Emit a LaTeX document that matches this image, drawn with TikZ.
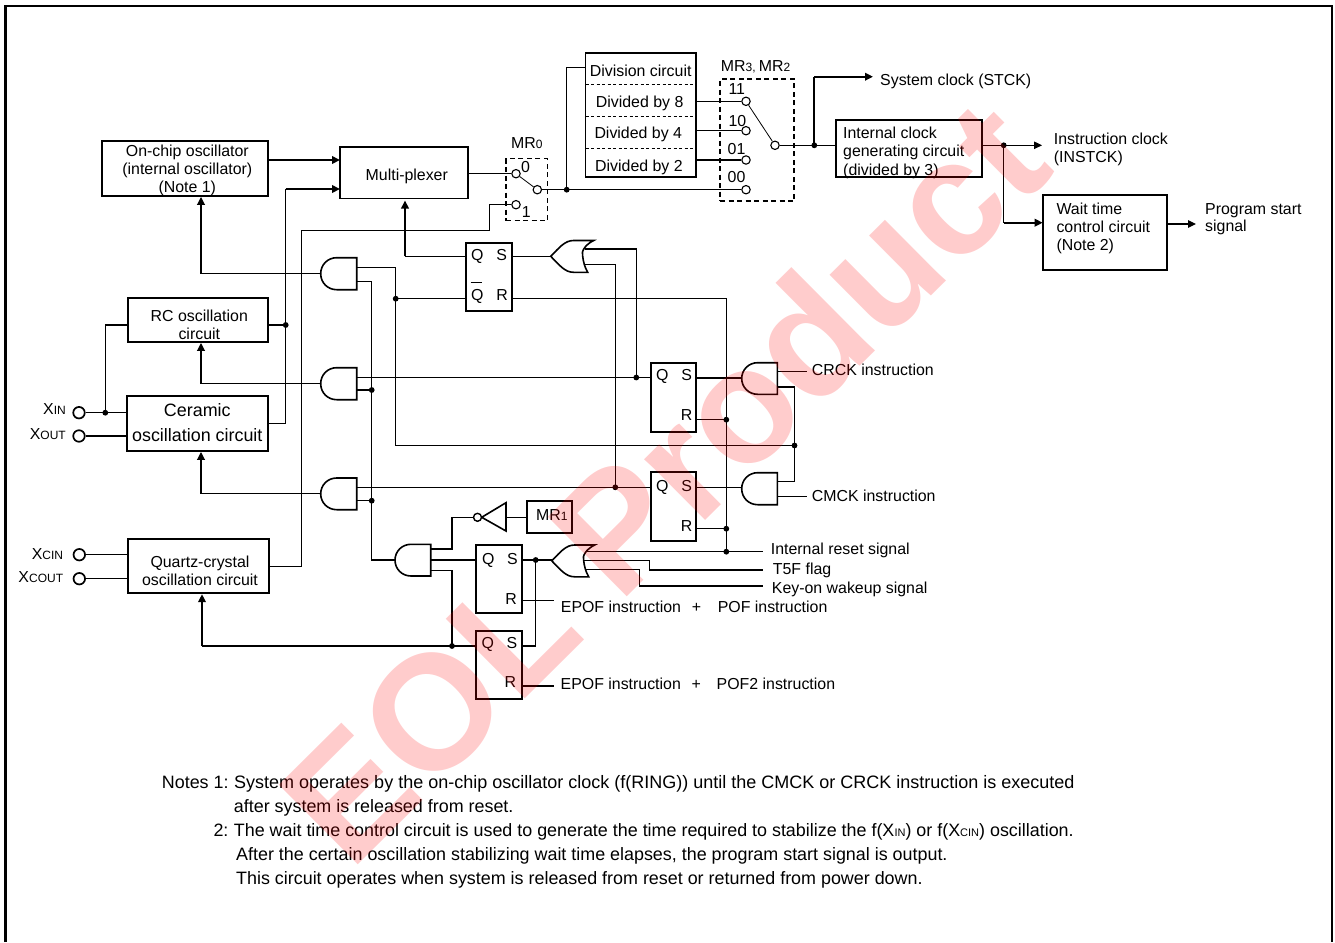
\documentclass[tikz,border=0pt]{standalone}
\usepackage{fontspec}
\setmainfont{Liberation Sans}
\usetikzlibrary{arrows.meta,calc}
\newcommand\sm[1]{{\fontsize{12}{12}\selectfont #1}}
\newcommand\smn[1]{{\fontsize{11}{11}\selectfont #1}}
\tikzset{
  wire/.style={line width=1.1pt,line join=miter},
  fat/.style={line width=2.3pt,line join=miter},
  tipped/.style={-{Triangle[length=8pt,width=7.5pt]}},
  boxst/.style={draw,line width=1.7pt,inner sep=0pt,fill=none},
  dashbox/.style={draw,line width=1.5pt,dash pattern=on 5pt off 3.5pt,inner sep=0pt},
  sep/.style={line width=1pt,dash pattern=on 3pt off 2.5pt},
  lever/.style={line width=.8pt},
  term/.style={circle,draw,fill=white,line width=1.1pt,minimum size=8.4pt,inner sep=0pt},
  pin/.style={circle,draw,fill=white,line width=1.7pt,minimum size=11.5pt,inner sep=0pt},
  dot/.style={circle,fill=black,minimum size=5.8pt,inner sep=0pt},
  lbl/.style={anchor=base west,inner sep=0pt,font=\fontsize{15.9}{15.9}\selectfont},
  clbl/.style={anchor=base,inner sep=0pt,font=\fontsize{15.9}{15.9}\selectfont},
  rlbl/.style={anchor=base east,inner sep=0pt,font=\fontsize{15.9}{15.9}\selectfont},
  note/.style={anchor=base west,inner sep=0pt,font=\fontsize{17.9}{17.9}\selectfont},
  bigl/.style={anchor=base,inner sep=0pt,font=\fontsize{17.9}{17.9}\selectfont},
  gate/.style={line width=1.6pt,line join=miter},
}
% box node: name, x1,y1,x2,y2
\newcommand\bx[6][boxst]{%
  \pgfmathsetmacro\bw{#5-#3}\pgfmathsetmacro\bh{#6-#4}%
  \node[#1,minimum width=\bw pt,minimum height=\bh pt] (#2) at ({(#3+#5)/2},{(#4+#6)/2}) {};}
% AND gate: x1, x2, y1, y2
\newcommand\andg[4]{%
  \pgfmathsetmacro\ym{(#3+#4)/2}\pgfmathsetmacro\xa{#1+16}\pgfmathsetmacro\xb{#1+7}%
  \pgfmathsetmacro\yb{#3+7}\pgfmathsetmacro\yc{#4-7}%
  \draw[gate,fill=white] (#2,#3) -- (\xa,#3) .. controls (\xb,#3) and (#1,\yb) .. (#1,\ym)
    .. controls (#1,\yc) and (\xb,#4) .. (\xa,#4) -- (#2,#4) -- cycle;}
% OR gate: tip x, tip y
\newcommand\org[2]{%
  \draw[gate] (#1,#2) .. controls ($(#1,#2)+(9,-9)$) and ($(#1,#2)+(14,-15.8)$) .. ($(#1,#2)+(23,-15.8)$)
    -- ($(#1,#2)+(43,-15.8)$) .. controls ($(#1,#2)+(35,-12)$) and ($(#1,#2)+(30,-5)$) .. ($(#1,#2)+(32,0)$)
    .. controls ($(#1,#2)+(32.5,5)$) and ($(#1,#2)+(34,11)$) .. ($(#1,#2)+(37,16)$)
    -- ($(#1,#2)+(23,16)$) .. controls ($(#1,#2)+(14,16)$) and ($(#1,#2)+(9,9)$) .. cycle;}
\begin{document}
\begin{tikzpicture}[x=1pt,y=-1pt]
\useasboundingbox (0,0) rectangle (1335,942);
\fill[white] (0,0) rectangle (1335,942);
\draw[line width=2.6pt] (5.7,942) -- (5.7,6) -- (1332,6) -- (1332,942);

% ---------- junction and port coordinates
\coordinate (jrc) at (285.7,325);
\coordinate (jxin) at (105.3,412.7);
\coordinate (jmr) at (566.7,189.7);
\coordinate (jsys) at (814.3,145.3);
\coordinate (jins) at (1003.7,145.3);
\coordinate (jq1) at (395.7,298.7);
\coordinate (js2) at (636.3,377.5);
\coordinate (js3) at (615.3,487.3);
\coordinate (ja2) at (371.7,390);
\coordinate (ja3) at (371.7,500.7);
\coordinate (jr2) at (726.3,419.7);
\coordinate (jr3) at (726.3,528.7);
\coordinate (jrst) at (726.3,551.7);
\coordinate (jn) at (794.5,445.5);
\coordinate (js4) at (535.7,560);
\coordinate (jq5) at (452,646);
\coordinate (a1in) at (320.7,273.7);
\coordinate (a2in) at (320.7,383.5);
\coordinate (a3in) at (320.7,493.5);
\coordinate (a1t) at (356.7,267.7);
\coordinate (a1b) at (356.7,281.7);
\coordinate (a2t) at (356.7,377.5);
\coordinate (a2b) at (356.7,390);
\coordinate (a3t) at (356.7,487.3);
\coordinate (a3b) at (356.7,500.7);
\coordinate (a4in) at (395,560);
\coordinate (a4t) at (430.7,549);
\coordinate (a4m) at (430.7,560);
\coordinate (a4b) at (430.7,570.7);
\coordinate (a5t) at (777.3,371.3);
\coordinate (a5b) at (777.3,387);
\coordinate (a5in) at (741.7,378);
\coordinate (a6t) at (777.3,481.3);
\coordinate (a6b) at (777.3,496.7);
\coordinate (a6in) at (741.7,487.3);
\coordinate (or1) at (550.7,256.3);
\coordinate (or1a) at (585,249);
\coordinate (or1b) at (584,264.3);
\coordinate (or2) at (551.7,560);
\coordinate (or2a) at (586,551.7);
\coordinate (or2b) at (584,560.7);
\coordinate (or2c) at (585.5,569.3);
\coordinate (qout) at (405,256.3);
\coordinate (qarr) at (405,200.5);
\coordinate (rout) at (726.3,298.7);
\coordinate (t1) at (201,273.7);
\coordinate (t2) at (201,383.5);
\coordinate (t3) at (201,493.5);
\coordinate (t4) at (202,646);
\coordinate (bendA) at (489.3,204.7);
\coordinate (bendB) at (489.3,230.5);
\coordinate (bendC) at (301.5,230.5);
\coordinate (bendD) at (301.5,566.7);
\coordinate (muxa) at (340,160);
\coordinate (muxb) at (340,189);
\coordinate (bendE) at (285.7,189);
\coordinate (bendF) at (285.7,423.3);
\coordinate (divin) at (585.5,67.3);
\coordinate (sysend) at (873,76.7);
\coordinate (waitin) at (1042.7,222.7);
\coordinate (progend) at (1196,224);
\coordinate (instend) at (1042,145.3);
\coordinate (stop1) at (806.7,371.3);
\coordinate (stop2) at (806.7,496.7);
\coordinate (stop3) at (763,551.7);
\coordinate (stop4) at (763,570);
\coordinate (stop5) at (763,586);
\coordinate (ep1) at (554,600.7);
\coordinate (ep2) at (554,686);
\coordinate (t5a) at (649.5,560.7);
\coordinate (keya) at (639.5,569.3);

% ---------- boxes
\bx{onchip}{102}{141}{268.3}{196}
\bx{rc}{128}{298}{268.3}{342}
\bx{ceramic}{127.3}{396}{268.3}{451}
\bx{quartz}{127.7}{539}{269.3}{593.3}
\bx{mux}{340}{147.3}{468}{198.6}
\bx{div}{585.5}{53.3}{695.7}{177.3}
\bx{intclk}{835.7}{120}{982}{176.7}
\bx{wait}{1042.7}{195}{1166.7}{270}
\bx{ffa}{466.3}{242.7}{511.7}{310.7}
\bx{ffb}{650.7}{363.3}{696.3}{431.7}
\bx{ffc}{650.7}{472.3}{696.3}{540.7}
\bx{ffd}{476}{544.7}{521.7}{612.7}
\bx{ffe}{476}{631.3}{521.7}{699.3}
\bx{mra}{526.7}{501}{572.3}{533.3}
\bx[dashbox]{swa}{506}{158.7}{547.3}{220.7}
\bx[dashbox]{swb}{720}{79}{794}{201}
\draw[sep] (585.5,84.3) -- (695.7,84.3) (585.5,116.3) -- (695.7,116.3) (585.5,148.3) -- (695.7,148.3);

% ---------- pins and switch terminals
\node[pin] (xin) at (79,412.7) {};
\node[pin] (xout) at (79,436) {};
\node[pin] (xcin) at (79.3,554.7) {};
\node[pin] (xcout) at (79.3,578.7) {};
\node[term] (s0) at (516,173.7) {};
\node[term] (s1) at (516,204.7) {};
\node[term] (sp) at (537.3,189.7) {};
\node[term] (d8) at (746,101.3) {};
\node[term] (d4) at (746,130.7) {};
\node[term] (d2) at (746,160) {};
\node[term] (d0) at (746,189.7) {};
\node[term] (dp) at (775,145.3) {};

% ---------- wires
\draw[wire] (xin) -- (ceramic.west |- xin);
\draw[wire] (xout) -- (ceramic.west |- xout);
\draw[wire] (xcin) -- (quartz.west |- xcin);
\draw[wire] (xcout) -- (quartz.west |- xcout);
\draw[wire] (jxin) |- (rc.west |- jrc);
\draw[wire] (rc.east |- jrc) -- (jrc);
\draw[wire] (ceramic.east |- bendF) -- (bendF) -- (bendE);
\draw[fat,tipped] (bendE) -- (muxb);
\draw[fat,tipped] (onchip.east |- muxa) -- (muxa);
\draw[wire] (quartz.east |- bendD) -- (bendD) -- (bendC) -- (bendB) -- (bendA) -- (s1);
\draw[wire] (mux.east |- s0) -- (s0);
\draw[lever] (s0) -- (sp);
\draw[wire] (sp) -- (jmr) -- (d0);
\draw[wire] (jmr) |- (divin);
\draw[wire] (div.east |- d8) -- (d8);
\draw[wire] (div.east |- d4) -- (d4);
\draw[wire] (div.east |- d2) -- (d2);
\draw[lever] (d8) -- (dp);
\draw[wire] (dp) -- (intclk.west |- dp);
\draw[fat] (jsys) -- (jsys |- sysend);
\draw[fat,tipped] (jsys |- sysend) -- (sysend);
\draw[wire,tipped] (intclk.east |- jins) -- (instend);
\draw[wire] (jins) -- (jins |- waitin);
\draw[fat,tipped] (jins |- waitin) -- (waitin);
\draw[wire,tipped] (wait.east |- progend) -- (progend);

\draw[wire] (a1in) -- (t1);
\draw[fat,tipped] (t1) -- (t1 |- onchip.south);
\draw[wire] (a2in) -- (t2);
\draw[fat,tipped] (t2) -- (t2 |- rc.south);
\draw[wire] (a3in) -- (t3);
\draw[fat,tipped] (t3) -- (t3 |- ceramic.south);
\draw[wire] (jq5) -- (t4);
\draw[fat,tipped] (t4) -- (t4 |- quartz.south);

\draw[wire] (ffa.west |- qout) -- (qout);
\draw[fat,tipped] (qout) -- (qarr);
\draw[wire] (a1t) -| (jq1);
\draw[wire] (jq1) -- (ffa.west |- jq1);
\draw[wire] (jq1) |- (jn);
\draw[wire] (a1b) -| (ja2) -- (ja3) |- (a4in);
\draw[wire] (ffa.east |- or1) -- (or1);
\draw[wire] (ffa.east |- rout) -- (rout) -- (jrst) -- (stop3);
\draw[wire] (or1a) -| (js2);
\draw[wire] (or1b) -| (js3);
\draw[wire] (a2t) -- (ffb.west |- a2t);
\draw[wire] (a3t) -- (ffc.west |- a3t);
\draw[wire] (a2b) -- (ja2);
\draw[wire] (a3b) -- (ja3);
\draw[wire] (ffb.east |- a5in) -- (a5in);
\draw[wire] (ffc.east |- a6in) -- (a6in);
\draw[wire] (ffb.east |- jr2) -- (jr2);
\draw[wire] (ffc.east |- jr3) -- (jr3);
\draw[wire] (a5t) -- (stop1);
\draw[wire] (a6b) -- (stop2);
\draw[wire] (a5b) -| (jn) |- (a6t);

\draw[wire] (a4t) -| (jq5 |- 0,517.3) -- (473.5,517.3);
\draw[wire] (a4m) -- (ffd.west |- a4m);
\draw[wire] (a4b) -| (jq5);
\draw[wire] (jq5) -- (ffe.west |- jq5);
\draw[wire] (ffd.east |- or2) -- (or2);
\draw[wire] (js4) |- (ffe.east |- jq5);
\draw[wire] (or2a) -- (stop3);
\draw[wire] (or2b) -| (stop4 -| t5a) |- (stop4);
\draw[wire] (or2c) -| (stop5 -| keya) |- (stop5);
\draw[wire] (ffd.east |- ep1) -- (ep1);
\draw[wire] (ffe.east |- ep2) -- (ep2);

% ---------- inverter
\coordinate (invtip) at (481.7,517.3);
\coordinate (invr) at (506,517.3);
\draw[gate,fill=white] (invtip) -- (506,502.7) -- (506,531) -- cycle;
\node[term,minimum size=8pt,line width=1.4pt] (bub) at (477.5,517.3) {};
\draw[wire] (invr) -- (mra.west |- invr);

% ---------- gates
\andg{320.7}{356.7}{257.7}{289.7}
\andg{320.7}{356.7}{367.7}{399.7}
\andg{320.7}{356.7}{478}{509.7}
\andg{395}{430.7}{544.3}{576}
\andg{741.7}{777.3}{362.7}{394.3}
\andg{741.7}{777.3}{472.7}{504.7}
\org{550.7}{256.3}
\org{551.7}{560.8}

% ---------- dots
\foreach \d in {jrc,jxin,jmr,jsys,jins,jq1,js2,js3,ja2,ja3,jr2,jr3,jrst,jn,js4,jq5}
  \node[dot] at (\d) {};

% ---------- texts
\node[lbl] (tsys) at (880,85) {System clock (STCK)};
\node[lbl] (tic1) at (843,138.3) {Internal clock};
\node[lbl] (tic2) at (843,156.7) {generating circuit};
\node[lbl] (tic3) at (843,175) {(divided by 3)};
\node[lbl] (tin1) at (1053.7,144) {Instruction clock};
\node[lbl] (tin2) at (1053.7,162.3) {(INSTCK)};
\node[lbl] (twt1) at (1056.3,214) {Wait time};
\node[lbl] (twt2) at (1056.3,232.3) {control circuit};
\node[lbl] (twt3) at (1056.3,250.7) {(Note 2)};
\node[lbl] (tpr1) at (1205,214) {Program start};
\node[lbl] (tpr2) at (1205,231.7) {signal};
\node[clbl] (tdv0) at (640.7,76) {Division circuit};
\node[lbl] (tdv8) at (595.7,107.3) {Divided by 8};
\node[lbl] (tdv4) at (594.3,138.3) {Divided by 4};
\node[lbl] (tdv2) at (595,171.7) {Divided by 2};
\node[lbl] (tmr32) at (720.7,71.3) {MR\sm{3, }MR\sm{2}};
\node[lbl] (tmr0) at (511,148) {MR\sm{0}};
\node[lbl] (t11) at (728.3,94.3) {11};
\node[lbl] (t10) at (728.3,126.3) {10};
\node[lbl] (t01) at (727.5,154.3) {01};
\node[lbl] (t00) at (727.5,182.3) {00};
\node[lbl] (ts0) at (521,172) {0};
\node[lbl] (ts1) at (521.7,217.3) {1};
\node[clbl] (to1) at (187.3,156) {On-chip oscillator};
\node[clbl] (to2) at (187.3,174.3) {(internal oscillator)};
\node[clbl] (to3) at (187.3,192.3) {(Note 1)};
\node[clbl] (trc1) at (199.3,321) {RC oscillation};
\node[clbl] (trc2) at (199.3,339.3) {circuit};
\node[bigl] (tc1) at (197.3,416.7) {Ceramic};
\node[bigl] (tc2) at (197.3,441) {oscillation circuit};
\node[clbl] (tq1) at (200,567.3) {Quartz-crystal};
\node[clbl] (tq2) at (200,585.3) {oscillation circuit};
\node[clbl] (tmux) at (406.8,180.3) {Multi-plexer};
\node[rlbl] (txin) at (66,414.7) {X\sm{IN}};
\node[rlbl] (txout) at (66,439.3) {X\sm{OUT}};
\node[rlbl] (txcin) at (63.3,559.3) {X\sm{CIN}};
\node[rlbl] (txcout) at (63.3,582.7) {X\sm{COUT}};
\node[clbl] (fa1) at (477.3,260) {Q};
\node[clbl] (fa2) at (501.7,260) {S};
\node[clbl] (fa3) at (477.3,300) {Q};
\node[clbl] (fa4) at (502,300) {R};
\draw[line width=1.2pt] (470.7,282.3) -- (482.3,282.3);
\node[clbl] (fb1) at (662.3,380.7) {Q};
\node[clbl] (fb2) at (686.7,380.7) {S};
\node[clbl] (fb3) at (686.7,420.7) {R};
\node[clbl] (fc1) at (662.3,491.7) {Q};
\node[clbl] (fc2) at (686.7,491.7) {S};
\node[clbl] (fc3) at (686.7,531.7) {R};
\node[clbl] (fd1) at (488.3,564) {Q};
\node[clbl] (fd2) at (512.3,564) {S};
\node[clbl] (fd3) at (511,604) {R};
\node[clbl] (fe1) at (487.7,648.3) {Q};
\node[clbl] (fe2) at (512,648.3) {S};
\node[clbl] (fe3) at (510.3,687.7) {R};
\node[lbl] (tmr1) at (536,520) {MR\sm{1}};
\node[lbl] (tcr) at (811.7,375) {CRCK instruction};
\node[lbl] (tcm) at (811.7,501.7) {CMCK instruction};
\node[lbl] (tir) at (770.7,554) {Internal reset signal};
\node[lbl] (tt5) at (772.7,574.3) {T5F flag};
\node[lbl] (tky) at (771.7,593) {Key-on wakeup signal};
\node[lbl] (te1) at (560.7,612) {EPOF instruction};
\node[clbl] (tp1) at (696.6,612) {+};
\node[lbl] (tpf1) at (717.6,612) {POF instruction};
\node[lbl] (te2) at (560.5,689.7) {EPOF instruction};
\node[clbl] (tp2) at (696.3,689.7) {+};
\node[lbl] (tpf2) at (716.5,689.7) {POF2 instruction};
\node[note] (n0) at (161.7,788.3) {Notes 1:};
\node[note,font=\fontsize{18}{18}\selectfont] (n1) at (234,788.3) {System operates by the on-chip oscillator clock (f(RING)) until the CMCK or CRCK instruction is executed};
\node[note] (n2) at (233.7,812) {after system is released from reset.};
\node[note] (n3a) at (213.3,836) {2:};
\node[note] (n3) at (233.7,836) {The wait time control circuit is used to generate the time required to stabilize the f(X\smn{IN}) or f(X\smn{CIN}) oscillation.};
\node[note] (n4) at (236,860) {After the certain oscillation stabilizing wait time elapses, the program start signal is output.};
\node[note] (n5) at (236,884) {This circuit operates when system is released from reset or returned from power down.};

% ---------- watermark
\node[anchor=base west,inner sep=0pt,rotate=44.8,text=red,text opacity=.2,font=\bfseries\fontsize{163}{163}\selectfont] (wm) at (350,873) {EOL Product};
\end{tikzpicture}
\end{document}
